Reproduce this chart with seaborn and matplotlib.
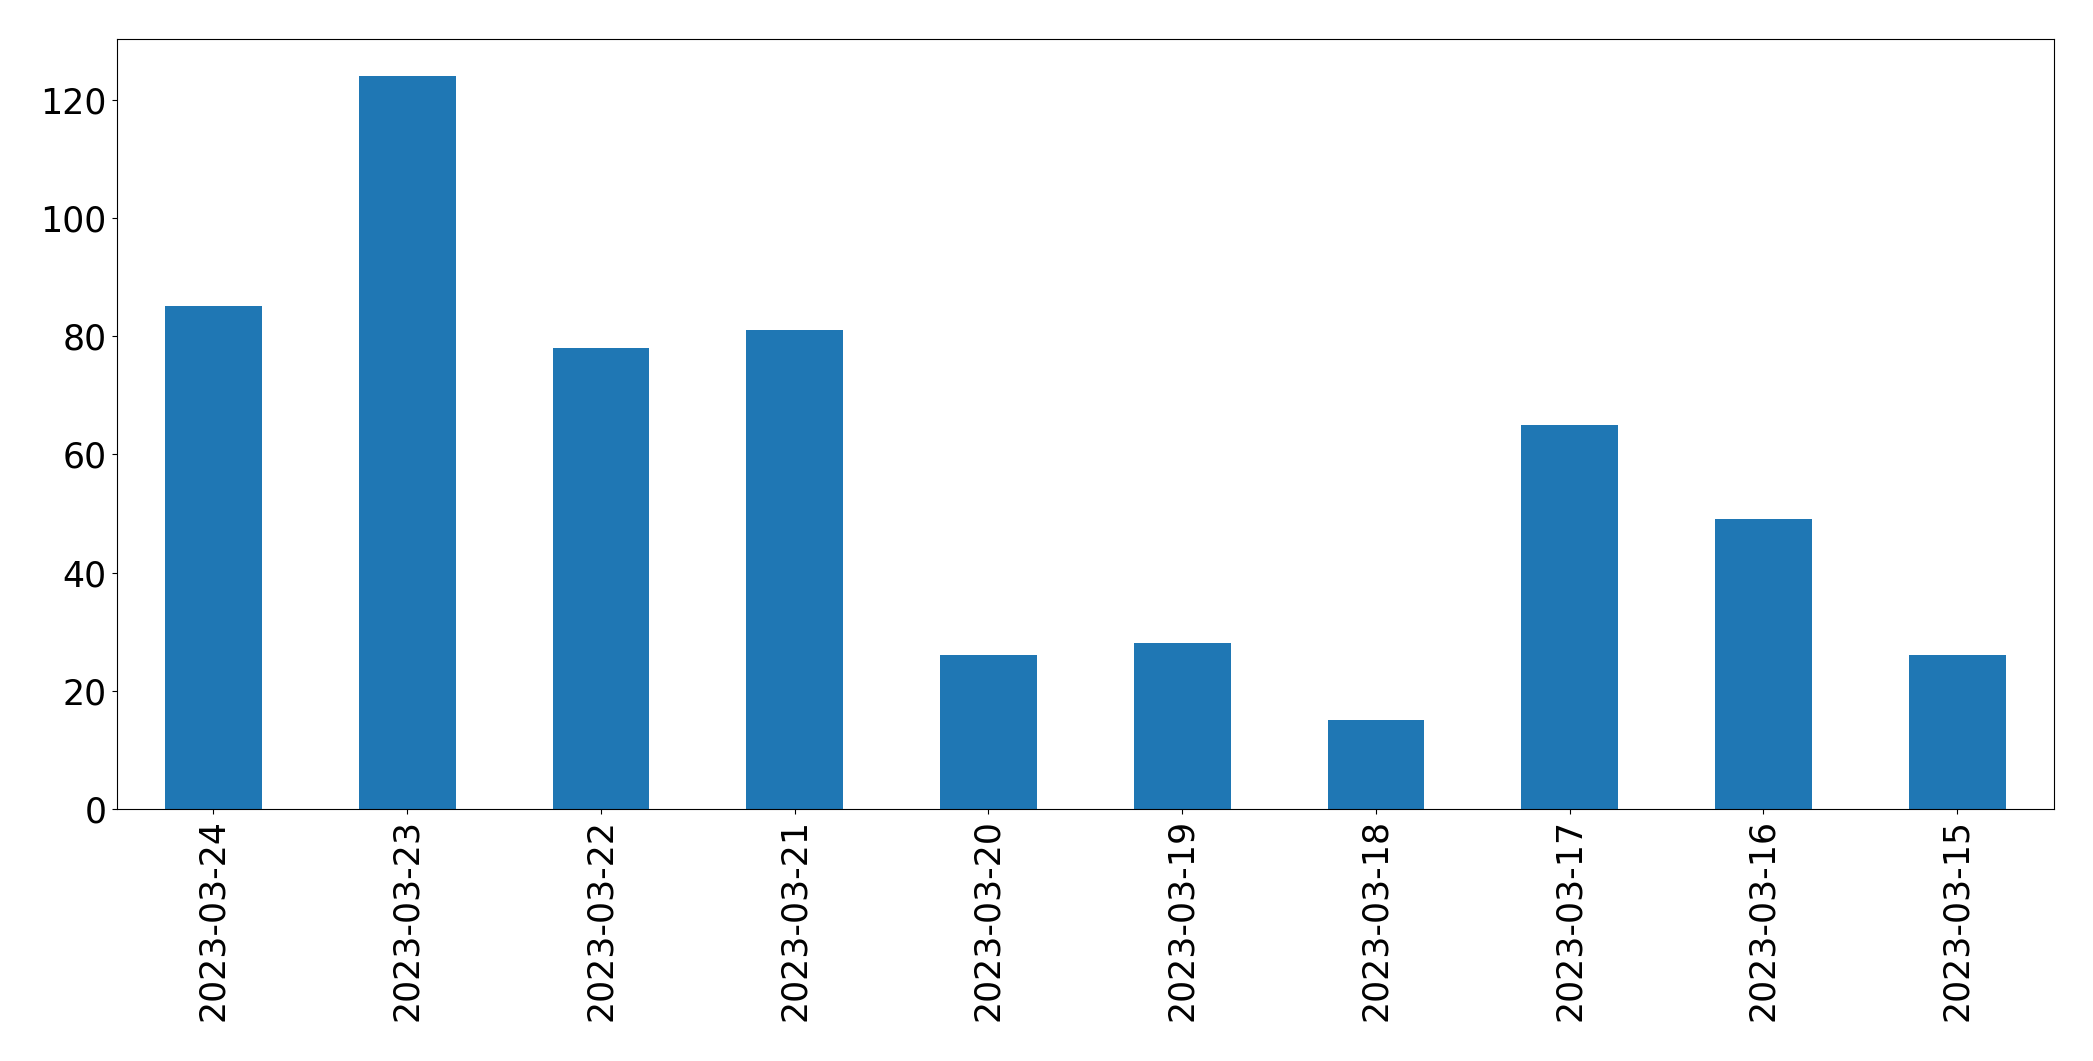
import seaborn as sns
import matplotlib.pyplot as plt
import pandas as pd

# daily counts, newest first (as in the source chart)
dates = ["2023-03-24", "2023-03-23", "2023-03-22", "2023-03-21", "2023-03-20",
         "2023-03-19", "2023-03-18", "2023-03-17", "2023-03-16", "2023-03-15"]
counts = [85, 124, 78, 81, 26, 28, 15, 65, 49, 26]

df = pd.DataFrame({"date": dates, "count": counts})

fig = plt.figure(figsize=(20.93, 10.61), dpi=100)
ax = fig.add_axes([0.0557, 0.2375, 0.9257, 0.7255])

sns.barplot(data=df, x="date", y="count", color="#1f77b4", saturation=1,
            width=0.5, ax=ax)

ax.set_xlim(-0.5, len(dates) - 0.5)
ax.set_ylim(0, max(counts) * 1.05)
ax.set_xlabel("")
ax.set_ylabel("")
ax.tick_params(axis="x", labelrotation=90, labelsize=25)
ax.tick_params(axis="y", labelsize=25)

fig.savefig("out.png", dpi=100)
